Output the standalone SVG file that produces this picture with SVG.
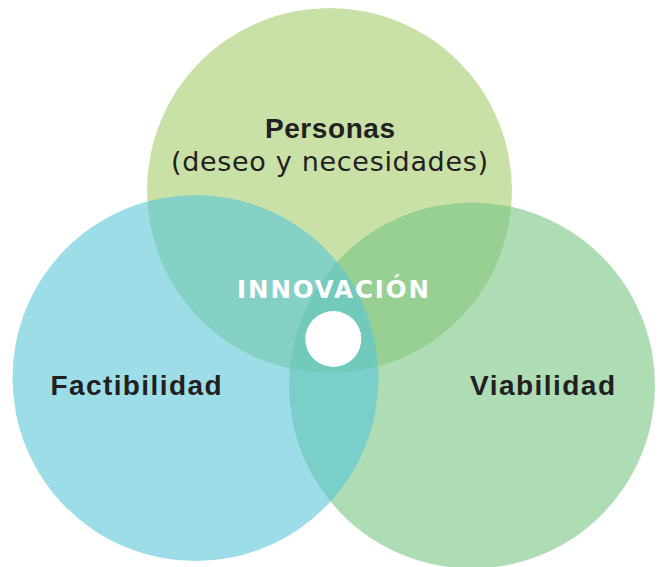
<svg xmlns="http://www.w3.org/2000/svg" width="660" height="567" viewBox="0 0 660 567">
<style>
.lbl{font-family:"Liberation Sans",Arial,sans-serif;font-weight:bold;font-size:28px;fill:#231f20;text-anchor:middle}
.sub{font-family:"DejaVu Sans",sans-serif;font-size:27px;fill:#231f20;text-anchor:middle}
.inn{font-family:"DejaVu Sans",sans-serif;font-weight:bold;font-size:24.5px;fill:#ffffff;text-anchor:middle}
</style>
<rect width="660" height="567" fill="#ffffff"/>
<g id="personas">
<circle cx="329.5" cy="190.5" r="182.5" fill="#c9e1a7"/>
</g>
<g id="viabilidad">
<circle cx="472" cy="385.5" r="183" fill="#76c584" fill-opacity="0.6"/>
</g>
<g id="factibilidad">
<circle cx="195.5" cy="378" r="183" fill="#5ac6d9" fill-opacity="0.6"/>
</g>
<g id="innovacion">
<circle cx="333.3" cy="339" r="28" fill="#ffffff"/>
<text class="inn" x="333" y="297.5" textLength="192" lengthAdjust="spacing">INNOVACIÓN</text>
</g>
<g id="labels">
<text class="lbl" x="330" y="138" textLength="130" lengthAdjust="spacing">Personas</text>
<text class="sub" x="329.5" y="171" textLength="317" lengthAdjust="spacing">(deseo y necesidades)</text>
<text class="lbl" x="136" y="395" textLength="171" lengthAdjust="spacing">Factibilidad</text>
<text class="lbl" x="542.5" y="395" textLength="145" lengthAdjust="spacing">Viabilidad</text>
</g>
<g id="connectors"></g>
</svg>
